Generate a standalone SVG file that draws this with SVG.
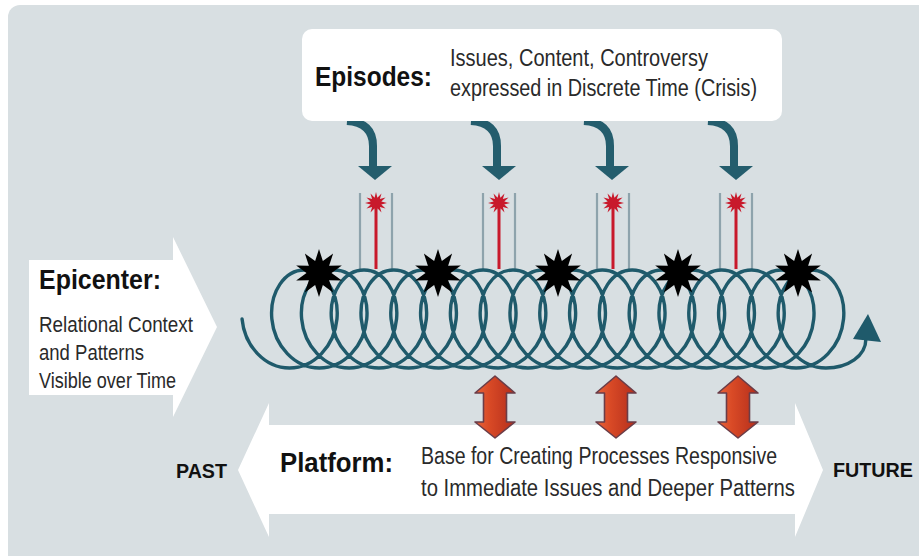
<svg xmlns="http://www.w3.org/2000/svg" xmlns:xlink="http://www.w3.org/1999/xlink" width="919" height="556" viewBox="0 0 919 556">
  <style>
    .bold { font-family: "Liberation Sans", Arial, sans-serif; font-weight: bold; fill: #111; }
    .body { font-family: "Liberation Sans", Arial, sans-serif; fill: #2a2a2a; }
    .coil { fill: none; stroke: #1f5a6b; stroke-width: 3.4; stroke-linecap: round; }
    .guide { stroke: #8ea3ac; stroke-width: 2.2; }
    .spark-line { stroke: #c8192b; stroke-width: 3; }
    .spark { fill: #c8192b; }
    .burst { fill: #000; }
    .drop { fill: none; stroke: #245d6d; stroke-width: 8; }
    .drop-head { fill: #245d6d; }
    .white { fill: #fff; }
  </style>
  <defs>
    <linearGradient id="orangeFill" x1="0" y1="0" x2="1" y2="0">
      <stop offset="0" stop-color="#e8643a"/>
      <stop offset="0.35" stop-color="#d94a26"/>
      <stop offset="1" stop-color="#b42e1c"/>
    </linearGradient>
    <!-- double-headed link between coil and platform -->
    <path id="dbl" d="M0,376 L20,393 L11.5,393 L11.5,422 L20,422 L0,438 L-20,422 L-11.5,422 L-11.5,393 L-20,393 Z" fill="url(#orangeFill)" stroke="#6a3d48" stroke-width="1.6" stroke-linejoin="round"/>
    <!-- hooked drop arrow under the episodes box -->
    <g id="drop">
      <path class="drop" d="M-28,121 C-11,122 -2,130 -2,146 L-2,167"/>
      <polygon class="drop-head" points="-17,166 17,166 0,180"/>
    </g>
    <!-- episode marker: guide rails, red stem and spark -->
    <g id="episode">
      <line class="guide" x1="-16" y1="193" x2="-16" y2="269"/>
      <line class="guide" x1="16" y1="193" x2="16" y2="269"/>
      <line class="spark-line" x1="0" y1="208" x2="0" y2="269"/>
      <polygon class="spark" transform="translate(0,203)" points="0,-11 1.42,-5.31 5.5,-9.53 3.89,-3.89 9.53,-5.5 5.31,-1.42 11,0 5.31,1.42 9.53,5.5 3.89,3.89 5.5,9.53 1.42,5.31 0,11 -1.42,5.31 -5.5,9.53 -3.89,3.89 -9.53,5.5 -5.31,1.42 -11,0 -5.31,-1.42 -9.53,-5.5 -3.89,-3.89 -5.5,-9.53 -1.42,-5.31"/>
    </g>
    <polygon id="star" class="burst" points="0,-24 3.86,-11.89 14.11,-19.42 10.11,-7.35 22.83,-7.42 12.5,0 22.83,7.42 10.11,7.35 14.11,19.42 3.86,11.89 0,24 -3.86,11.89 -14.11,19.42 -10.11,7.35 -22.83,7.42 -12.5,0 -22.83,-7.42 -10.11,-7.35 -14.11,-19.42 -3.86,-11.89"/>
  </defs>

  <!-- backdrop panel -->
  <rect x="0" y="0" width="919" height="556" fill="#fff"/>
  <rect x="8" y="5" width="930" height="570" rx="12" fill="#d8dfe2"/>

  <!-- connectors -->
  <g id="connectors">
    <use xlink:href="#drop" href="#drop" x="375"/>
    <use xlink:href="#drop" href="#drop" x="499"/>
    <use xlink:href="#drop" href="#drop" x="612"/>
    <use xlink:href="#drop" href="#drop" x="736"/>
  </g>

  <!-- episodes box -->
  <g id="episodes">
    <rect class="white" x="302" y="29" width="480" height="92" rx="10"/>
    <text class="bold" x="315" y="86" font-size="28" textLength="117" lengthAdjust="spacingAndGlyphs">Episodes:</text>
    <text class="body" x="450" y="66" font-size="23" textLength="258" lengthAdjust="spacingAndGlyphs">Issues, Content, Controversy</text>
    <text class="body" x="450" y="96" font-size="23" textLength="307" lengthAdjust="spacingAndGlyphs">expressed in Discrete Time (Crisis)</text>
  </g>

  <!-- epicenter arrow -->
  <g id="epicenter">
    <polygon class="white" points="29,260 173,260 173,237 217,327 173,417 173,395 29,395"/>
    <text class="bold" x="39" y="289" font-size="28" textLength="122" lengthAdjust="spacingAndGlyphs">Epicenter:</text>
    <text class="body" x="39" y="332" font-size="22" textLength="154" lengthAdjust="spacingAndGlyphs">Relational Context</text>
    <text class="body" x="39" y="360" font-size="22" textLength="105" lengthAdjust="spacingAndGlyphs">and Patterns</text>
    <text class="body" x="39" y="388" font-size="22" textLength="137" lengthAdjust="spacingAndGlyphs">Visible over Time</text>
  </g>

  <!-- platform double arrow -->
  <g id="platform">
    <polygon class="white" points="238,470 269,403 269,425 795,425 795,403 823,470 795,537 795,514 269,514 269,537"/>
    <text class="bold" x="280" y="472" font-size="27" textLength="113" lengthAdjust="spacingAndGlyphs">Platform:</text>
    <text class="body" x="421" y="464" font-size="23" textLength="356" lengthAdjust="spacingAndGlyphs">Base for Creating Processes Responsive</text>
    <text class="body" x="421" y="496" font-size="23" textLength="374" lengthAdjust="spacingAndGlyphs">to Immediate Issues and Deeper Patterns</text>
  </g>

  <g id="past">
    <text class="bold" x="176" y="478" font-size="21" textLength="51" lengthAdjust="spacingAndGlyphs">PAST</text>
  </g>
  <g id="future">
    <text class="bold" x="833" y="477" font-size="20" textLength="80" lengthAdjust="spacingAndGlyphs">FUTURE</text>
  </g>

  <!-- episode markers rising from the coil -->
  <g id="markers">
    <use xlink:href="#episode" href="#episode" x="376"/>
    <use xlink:href="#episode" href="#episode" x="499"/>
    <use xlink:href="#episode" href="#episode" x="613"/>
    <use xlink:href="#episode" href="#episode" x="736"/>
  </g>

  <!-- time coil: elliptical trochoid, rx=40, ry=49, 29.8px advance per turn -->
  <g id="coil">
    <path class="coil" d="M242.05,319 c2.48,27.06 22.88,49 47.45,49
      c24.58,0 44.97,-21.94 47.45,-49 c2.48,-27.06 -12.94,-49 -32.55,-49 c-19.61,0 -35.03,21.94 -32.55,49 c2.48,27.06 22.88,49 47.45,49
      c24.58,0 44.97,-21.94 47.45,-49 c2.48,-27.06 -12.94,-49 -32.55,-49 c-19.61,0 -35.03,21.94 -32.55,49 c2.48,27.06 22.88,49 47.45,49
      c24.58,0 44.97,-21.94 47.45,-49 c2.48,-27.06 -12.94,-49 -32.55,-49 c-19.61,0 -35.03,21.94 -32.55,49 c2.48,27.06 22.88,49 47.45,49
      c24.58,0 44.97,-21.94 47.45,-49 c2.48,-27.06 -12.94,-49 -32.55,-49 c-19.61,0 -35.03,21.94 -32.55,49 c2.48,27.06 22.88,49 47.45,49
      c24.58,0 44.97,-21.94 47.45,-49 c2.48,-27.06 -12.94,-49 -32.55,-49 c-19.61,0 -35.03,21.94 -32.55,49 c2.48,27.06 22.88,49 47.45,49
      c24.58,0 44.97,-21.94 47.45,-49 c2.48,-27.06 -12.94,-49 -32.55,-49 c-19.61,0 -35.03,21.94 -32.55,49 c2.48,27.06 22.88,49 47.45,49
      c24.58,0 44.97,-21.94 47.45,-49 c2.48,-27.06 -12.94,-49 -32.55,-49 c-19.61,0 -35.03,21.94 -32.55,49 c2.48,27.06 22.88,49 47.45,49
      c24.58,0 44.97,-21.94 47.45,-49 c2.48,-27.06 -12.94,-49 -32.55,-49 c-19.61,0 -35.03,21.94 -32.55,49 c2.48,27.06 22.88,49 47.45,49
      c24.58,0 44.97,-21.94 47.45,-49 c2.48,-27.06 -12.94,-49 -32.55,-49 c-19.61,0 -35.03,21.94 -32.55,49 c2.48,27.06 22.88,49 47.45,49
      c24.58,0 44.97,-21.94 47.45,-49 c2.48,-27.06 -12.94,-49 -32.55,-49 c-19.61,0 -35.03,21.94 -32.55,49 c2.48,27.06 22.88,49 47.45,49
      c24.58,0 44.97,-21.94 47.45,-49 c2.48,-27.06 -12.94,-49 -32.55,-49 c-19.61,0 -35.03,21.94 -32.55,49 c2.48,27.06 22.88,49 47.45,49
      c24.58,0 44.97,-21.94 47.45,-49 c2.48,-27.06 -12.94,-49 -32.55,-49 c-19.61,0 -35.03,21.94 -32.55,49 c2.48,27.06 22.88,49 47.45,49
      c24.58,0 44.97,-21.94 47.45,-49 c2.48,-27.06 -12.94,-49 -32.55,-49 c-19.61,0 -35.03,21.94 -32.55,49 c2.48,27.06 22.88,49 47.45,49
      c24.58,0 44.97,-21.94 47.45,-49 c2.48,-27.06 -12.94,-49 -32.55,-49 c-19.61,0 -35.03,21.94 -32.55,49 c2.48,27.06 22.88,49 47.45,49
      c24.58,0 44.97,-21.94 47.45,-49 c2.48,-27.06 -12.94,-49 -32.55,-49 c-19.61,0 -35.03,21.94 -32.55,49 c2.48,27.06 22.88,49 47.45,49
      c24.58,0 44.97,-21.94 47.45,-49 c2.48,-27.06 -12.94,-49 -32.55,-49 c-19.61,0 -35.03,21.94 -32.55,49 c2.48,27.06 22.88,49 47.45,49
      c24.58,0 44.97,-21.94 47.45,-49 c2.48,-27.06 -12.94,-49 -32.55,-49 c-19.61,0 -35.03,21.94 -32.55,49 c2.48,27.06 22.88,49 47.45,49
      c24.58,0 44.97,-21.94 47.45,-49 c2.48,-27.06 -12.94,-49 -32.55,-49 c-19.61,0 -35.03,21.94 -32.55,49 c2.48,27.06 22.88,49 47.45,49
      c22,0 40,-12 40,-29"/>
    <polygon fill="#1f5a6b" points="853,339 881,342 868,314"/>
  </g>

  <!-- crisis bursts along the top of the coil -->
  <g id="bursts">
    <use xlink:href="#star" href="#star" x="319" y="273"/>
    <use xlink:href="#star" href="#star" x="438" y="273"/>
    <use xlink:href="#star" href="#star" x="558" y="273"/>
    <use xlink:href="#star" href="#star" x="678" y="273"/>
    <use xlink:href="#star" href="#star" x="798" y="273"/>
  </g>

  <!-- links between coil and platform -->
  <g id="links">
    <use xlink:href="#dbl" href="#dbl" x="495"/>
    <use xlink:href="#dbl" href="#dbl" x="616"/>
    <use xlink:href="#dbl" href="#dbl" x="738"/>
  </g>
</svg>
